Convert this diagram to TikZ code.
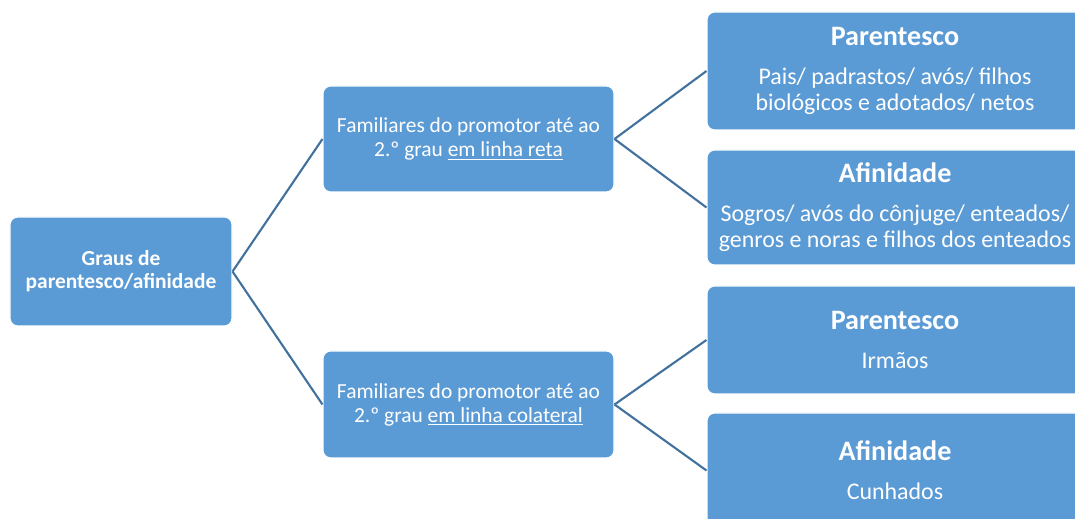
\documentclass[tikz,border=0pt]{standalone}
\usepackage{fontspec}
\setmainfont{Carlito}
\usetikzlibrary{positioning, arrows.meta, shapes, calc}
\definecolor{caixa}{RGB}{91,155,213}
\definecolor{linha}{RGB}{65,113,156}

\begin{document}
\begin{tikzpicture}[
        caixa/.style={draw=white, line width=0.6pt, fill=caixa, rounded corners=4.5pt,
              text=white, align=center, inner sep=2pt},
        liga/.style={draw=linha, line width=1.2pt},
        meio/.style={font=\fontsize{12.2}{13.6}\selectfont},
        folha/.style={font=\fontsize{13.6}{14.7}\selectfont}
    ]
        \useasboundingbox (0,0) rectangle (21.5,10.36);
        \clip (0,0) rectangle (21.5,10.36);

        % Nodo raiz
        \node[caixa, minimum width=4.44cm, minimum height=2.18cm,
              font=\fontsize{12.2}{13}\selectfont\bfseries] (graus) at (2.42,4.93)
            {Graus de\\parentesco/afinidade};

        % Linha reta e linha colateral
        \node[caixa, meio, minimum width=5.82cm, minimum height=2.12cm] (reta) at (9.37,7.58)
            {Familiares do promotor até ao\\2.º grau \underline{em linha reta}};
        \node[caixa, meio, minimum width=5.82cm, minimum height=2.14cm] (colat) at (9.37,2.27)
            {Familiares do promotor até ao\\2.º grau \underline{em linha colateral}};
        \draw[liga] (graus.east) -- (reta.west);
        \draw[liga] (graus.east) -- (colat.west);

        % Parentesco / afinidade em linha reta
        \node[caixa, folha, minimum width=7.52cm, minimum height=2.36cm] (par1) at (17.9,8.94)
            {{\fontsize{16}{17}\selectfont\bfseries Parentesco}\\[7.5pt]
             Pais/ padrastos/ avós/ filhos\\biológicos e adotados/ netos};
        \node[caixa, folha, minimum width=7.52cm, minimum height=2.30cm] (afi1) at (17.9,6.21)
            {{\fontsize{16}{17}\selectfont\bfseries Afinidade}\\[7.5pt]
             Sogros/ avós do cônjuge/ enteados/\\genros e noras e filhos dos enteados};
        \draw[liga] (reta.east) -- (par1.west);
        \draw[liga] (reta.east) -- (afi1.west);

        % Parentesco / afinidade em linha colateral
        \node[caixa, folha, minimum width=7.52cm, minimum height=2.16cm] (par2) at (17.9,3.56)
            {{\fontsize{16}{17}\selectfont\bfseries Parentesco}\\[7.5pt] Irmãos};
        \node[caixa, folha, minimum width=7.52cm, minimum height=2.30cm] (afi2) at (17.9,0.95)
            {{\fontsize{16}{17}\selectfont\bfseries Afinidade}\\[7.5pt] Cunhados};
        \draw[liga] (colat.east) -- (par2.west);
        \draw[liga] (colat.east) -- (afi2.west);
    \end{tikzpicture}
\end{document}
